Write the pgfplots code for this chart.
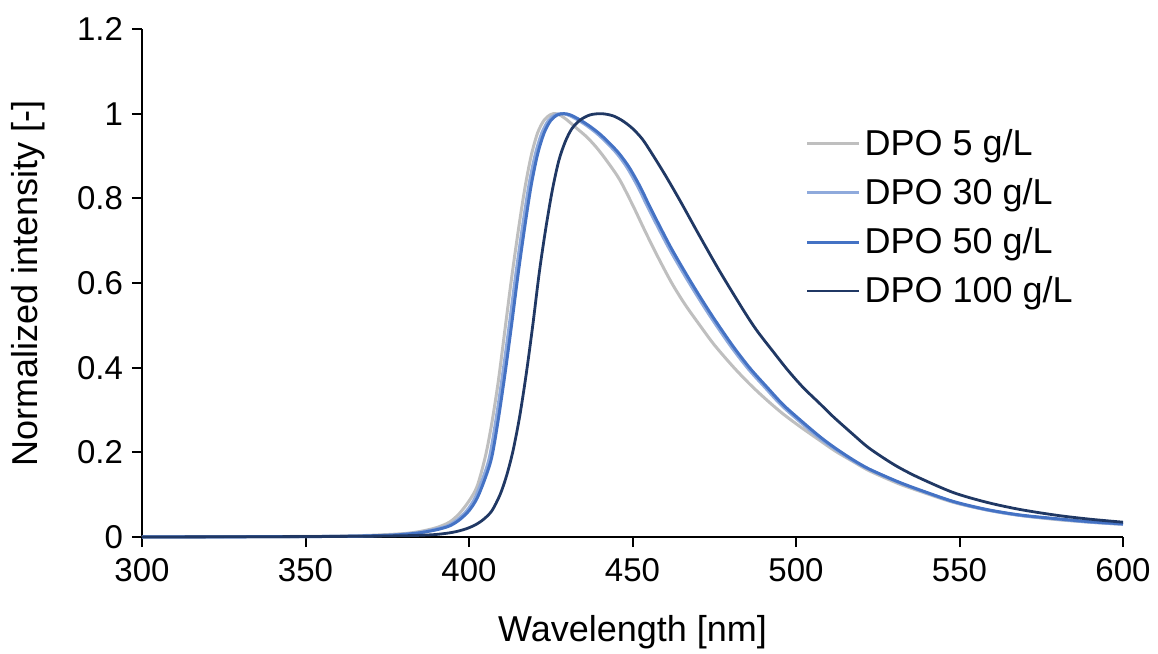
\documentclass[border=0pt]{standalone}
\usepackage{pgfplots}
\pgfplotsset{compat=1.18}
\usepackage{fontspec}
\setmainfont{Liberation Sans}
\definecolor{cGray}{RGB}{191,191,191}
\definecolor{cLight}{RGB}{143,170,220}
\definecolor{cBlue}{RGB}{68,114,196}
\definecolor{cNavy}{RGB}{32,56,100}
\begin{document}
\begin{tikzpicture}
\begin{axis}[
  at={(0,0)}, anchor=south west,
  scale only axis,
  width=490.5bp, height=254bp,
  xmin=300, xmax=600, ymin=0, ymax=1.2,
  xtick={300,350,...,600},
  ytick={0,0.2,0.4,0.6,0.8,1,1.2},
  yticklabels={0,0.2,0.4,0.6,0.8,1,1.2},
  axis lines*=left,
  axis line style={line width=1bp, black},
  tick style={line width=1bp, black},
  tick align=outside,
  major tick length=5bp,
  ticklabel style={font=\fontsize{16.5bp}{19bp}\selectfont},
  /pgf/number format/assume math mode=true,
  xticklabel style={yshift=-2bp},
  yticklabel style={xshift=-1bp},
  xlabel={Wavelength [nm]},
  ylabel={Normalized intensity [-]},
  label style={font=\fontsize{18bp}{21bp}\selectfont},
  xlabel style={at={(axis description cs:0.5,-0.187)}, anchor=center},
  ylabel style={at={(axis description cs:-0.1162,0.5)}, anchor=center},
  clip=false,
  legend style={draw=none, fill=none, at={(axis description cs:0.676,0.811)}, anchor=north west,
    font=\fontsize{18bp}{21bp}\selectfont, row sep=6bp, inner sep=0pt,
    /tikz/every even column/.append style={column sep=1.5bp}},
  legend cell align=left,
  legend image code/.code={\draw[#1] (0bp,0bp) -- (26bp,0bp);},
  every axis plot/.append style={line width=1.5bp, smooth, tension=0.5},
]
\addplot[cGray] coordinates {
(300,0) (340,0.001) (360,0.002) (370,0.004) (380,0.008) (385,0.013) (390,0.022) (394,0.035) (397,0.055) (400,0.085) (402.5,0.12) (405,0.19) (407,0.27) (409,0.37) (411,0.49) (413,0.61) (415,0.72) (417,0.82) (419,0.9) (421,0.955) (423,0.985) (425,0.998) (426.5,1.0) (428,0.996) (430,0.985) (433,0.965) (436,0.945) (439,0.92) (442,0.89) (446,0.845) (450,0.785) (454,0.72) (458,0.658) (462,0.6) (466,0.55) (470.6,0.5) (475,0.454) (480.8,0.402) (486,0.36) (491,0.324) (496,0.291) (501.2,0.261) (507.3,0.228) (512,0.203) (517.5,0.178) (522,0.158) (527.7,0.138) (532,0.124) (537.9,0.108) (548.1,0.082) (558.3,0.064) (568.5,0.051) (580,0.041) (590,0.035) (600,0.03)
};
\addlegendentry{DPO 5 g/L}
\addplot[cLight] coordinates {
(300,0) (350,0.001) (365,0.002) (375,0.004) (380,0.007) (385,0.011) (390,0.019) (393.3,0.026) (396.3,0.04) (399.3,0.062) (401.8,0.092) (404.3,0.14) (406.3,0.19) (408.3,0.28) (410.3,0.385) (412.3,0.5) (414.3,0.62) (416.3,0.73) (418.3,0.83) (420.3,0.905) (422.3,0.955) (424.3,0.984) (426.3,0.997) (428.3,1.0) (430.3,0.997) (433.3,0.985) (436.3,0.97) (439.3,0.952) (442.3,0.93) (445.3,0.905) (448.3,0.873) (451.6,0.828) (454.3,0.785) (457.7,0.733) (461.3,0.68) (465.8,0.62) (469.9,0.568) (474.3,0.515) (480.1,0.45) (485.3,0.398) (490.3,0.355) (495.3,0.313) (500.5,0.277) (506.6,0.237) (511.5,0.21) (517,0.182) (522,0.161) (527.7,0.141) (532,0.127) (537.9,0.11) (548.1,0.083) (558.3,0.064) (568.5,0.051) (580,0.042) (590,0.035) (600,0.03)
};
\addlegendentry{DPO 30 g/L}
\addplot[cBlue] coordinates {
(300,0) (350,0.001) (365,0.002) (375,0.004) (380,0.006) (385,0.01) (390,0.017) (394,0.026) (397,0.04) (400,0.062) (402.5,0.092) (405,0.14) (407,0.19) (409,0.28) (411,0.385) (413,0.5) (415,0.62) (417,0.73) (419,0.83) (421,0.905) (423,0.955) (425,0.984) (427,0.997) (429,1.0) (431,0.997) (434,0.985) (437,0.97) (440,0.952) (443,0.93) (446,0.905) (449,0.873) (452.3,0.828) (455,0.785) (458.4,0.733) (462,0.68) (466.5,0.62) (470.6,0.568) (475,0.515) (480.8,0.45) (486,0.398) (491,0.355) (496,0.313) (501.2,0.277) (507.3,0.237) (512,0.21) (517.5,0.182) (522,0.162) (527.7,0.142) (532,0.128) (537.9,0.111) (548.1,0.084) (558.3,0.065) (568.5,0.052) (580,0.043) (590,0.036) (600,0.031)
};
\addlegendentry{DPO 50 g/L}
\addplot[cNavy, line width=1.4bp] coordinates {
(300,0) (350,0.001) (370,0.002) (380,0.003) (385,0.004) (390,0.006) (395,0.011) (399,0.019) (402,0.029) (404.5,0.042) (407,0.062) (409.5,0.1) (411.5,0.145) (413.5,0.205) (415.5,0.285) (417.5,0.385) (419.5,0.5) (421.5,0.625) (423.5,0.73) (425.5,0.82) (427.5,0.89) (429.5,0.935) (431.5,0.965) (434,0.985) (437,0.997) (440.5,1.0) (444,0.995) (447,0.983) (450,0.965) (453,0.94) (456,0.905) (460,0.855) (464.5,0.795) (470.6,0.71) (476.8,0.626) (483.9,0.536) (488,0.488) (493.1,0.437) (497.5,0.394) (502.2,0.353) (507.3,0.315) (511.4,0.284) (517.5,0.242) (522,0.212) (527.7,0.182) (532,0.162) (537.9,0.139) (548.1,0.105) (558.3,0.082) (568.5,0.065) (580,0.051) (590,0.042) (600,0.035)
};
\addlegendentry{DPO 100 g/L}
\end{axis}
\pgfresetboundingbox
\path[use as bounding box] (-71bp,-58.5bp) rectangle (508bp,268.5bp);
\end{tikzpicture}
\end{document}
